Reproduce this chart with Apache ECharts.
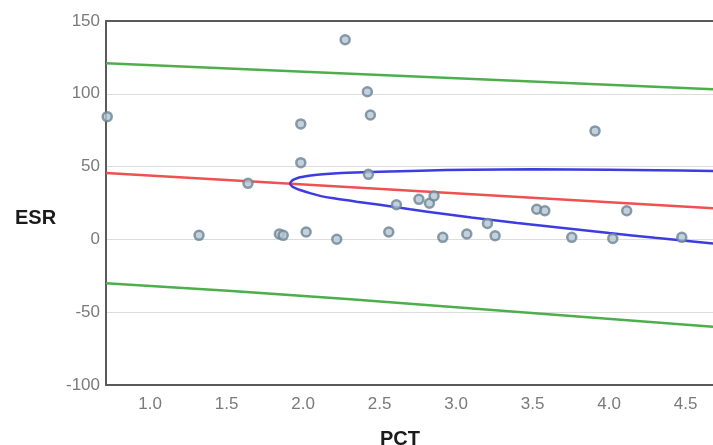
<!DOCTYPE html>
<html>
<head>
<meta charset="utf-8">
<script src="https://cdn.jsdelivr.net/npm/echarts@6/dist/echarts.min.js"></script>
<style>
  html, body { margin: 0; padding: 0; background: #fff; }
  #chart { width: 713px; height: 445px; }
</style>
</head>
<body>
<div id="chart"></div>
<script>
// observations
var pctValues = [0.72, 1.32, 1.64, 1.845, 1.87, 1.985, 1.985, 2.02, 2.22, 2.275, 2.42, 2.44, 2.427,
    2.56, 2.61, 2.757, 2.826, 2.856, 2.913, 3.07, 3.205, 3.255, 3.527, 3.58, 3.756, 3.908, 4.024, 4.115, 4.475];
var esrValues = [84.3, 2.8, 38.5, 3.7, 2.8, 79.3, 52.7, 5.1, 0.1, 137.1, 101.4, 85.4, 44.7,
    5.1, 23.8, 27.5, 24.8, 29.8, 1.4, 3.7, 11, 2.5, 20.7, 19.7, 1.4, 74.5, 0.7, 19.7, 1.4];

// fitted line and prediction band
var fitX = [0.712, 4.679];
var fitY = [45.6, 21.4];
var upperX = [0.712, 4.679];
var upperY = [120.9, 103.1];
var lowerX = [0.712, 2.31, 4.679];
var lowerY = [-30.2, -41.1, -60];

// blue curve: upper branch (right -> vertex), then lower branch (vertex -> right)
var curveX = [4.679, 4.3, 4.0, 3.5, 3.1, 2.77, 2.5, 2.29, 2.2, 2.11, 2.05, 1.98, 1.945, 1.928, 1.915,
    1.928, 1.945, 1.98, 2.05, 2.11, 2.2, 2.35, 2.5, 2.7, 2.9, 3.1, 3.4, 3.7, 4.0, 4.3, 4.679];
var curveY = [47, 47.5, 47.8, 48.1, 47.9, 47.2, 46.5, 45.8, 45.3, 44.6, 43.9, 42.65, 41.4, 40.4, 38.4,
    36.4, 35.4, 33.9, 31.6, 29.9, 28.2, 25.9, 23.8, 20.7, 17.8, 15.0, 11.3, 7.9, 4.4, 1.1, -2.8];

var xTicks = [1.0, 1.5, 2.0, 2.5, 3.0, 3.5, 4.0, 4.5];

function pairs(xs, ys) {
    var out = [];
    for (var i = 0; i < xs.length; i++) out.push([xs[i], ys[i]]);
    return out;
}

var chart = echarts.init(document.getElementById('chart'));
var labelFont = 'Liberation Sans';
var axisColor = '#5a5a5a';

var option = {
    animation: false,
    title: [
        { text: 'ESR', left: 10, top: 203, textStyle: { fontSize: 20, fontWeight: 'bold', color: '#1a1a1a', fontFamily: labelFont } },
        { text: 'PCT', left: 375, top: 424, textStyle: { fontSize: 20, fontWeight: 'bold', color: '#1a1a1a', fontFamily: labelFont } }
    ],
    grid: {
        left: 106,
        top: 21,
        bottom: 60,
        right: 0
    },
    xAxis: [{
        type: 'value',
        min: fitX[0],
        max: fitX[1],
        axisLine: { show: true, onZero: false, lineStyle: { color: axisColor, width: 2 } },
        axisTick: { show: false },
        splitLine: { show: false },
        axisLabel: {
            customValues: xTicks,
            margin: 11,
            color: '#7a7a7a',
            fontSize: 17,
            fontFamily: labelFont,
            formatter: function (v) { return v.toFixed(1); }
        }
    }, {
        // top frame line
        type: 'value',
        position: 'top',
        min: fitX[0],
        max: fitX[1],
        axisLine: { show: true, onZero: false, lineStyle: { color: axisColor, width: 2 } },
        axisTick: { show: false },
        axisLabel: { show: false },
        splitLine: { show: false }
    }],
    yAxis: {
        type: 'value',
        min: -100,
        max: 150,
        interval: 50,
        axisLine: { show: true, onZero: false, lineStyle: { color: axisColor, width: 2 } },
        axisTick: { show: false },
        splitLine: { show: true, lineStyle: { color: '#dddddd', width: 1 } },
        axisLabel: { margin: 6, color: '#7a7a7a', fontSize: 17, fontFamily: labelFont }
    },
    series: [
        {
            name: 'upper',
            type: 'line',
            data: pairs(upperX, upperY),
            symbol: 'none',
            lineStyle: { color: '#4caf4c', width: 2.5 }
        },
        {
            name: 'lower',
            type: 'line',
            smooth: true,
            data: pairs(lowerX, lowerY),
            symbol: 'none',
            lineStyle: { color: '#4caf4c', width: 2.5 }
        },
        {
            name: 'fit',
            type: 'line',
            data: pairs(fitX, fitY),
            symbol: 'none',
            lineStyle: { color: '#ef5050', width: 2.5 }
        },
        {
            name: 'curve',
            type: 'line',
            smooth: 0.3,
            data: pairs(curveX, curveY),
            symbol: 'none',
            lineStyle: { color: '#3c3ce0', width: 2.5 }
        },
        {
            name: 'data',
            type: 'scatter',
            data: pairs(pctValues, esrValues),
            symbol: 'circle',
            symbolSize: 9,
            itemStyle: { color: '#b4c6d4', borderColor: '#6d8494', borderWidth: 2.5 },
            z: 5
        }
    ]
};
chart.setOption(option);
</script>
</body>
</html>
